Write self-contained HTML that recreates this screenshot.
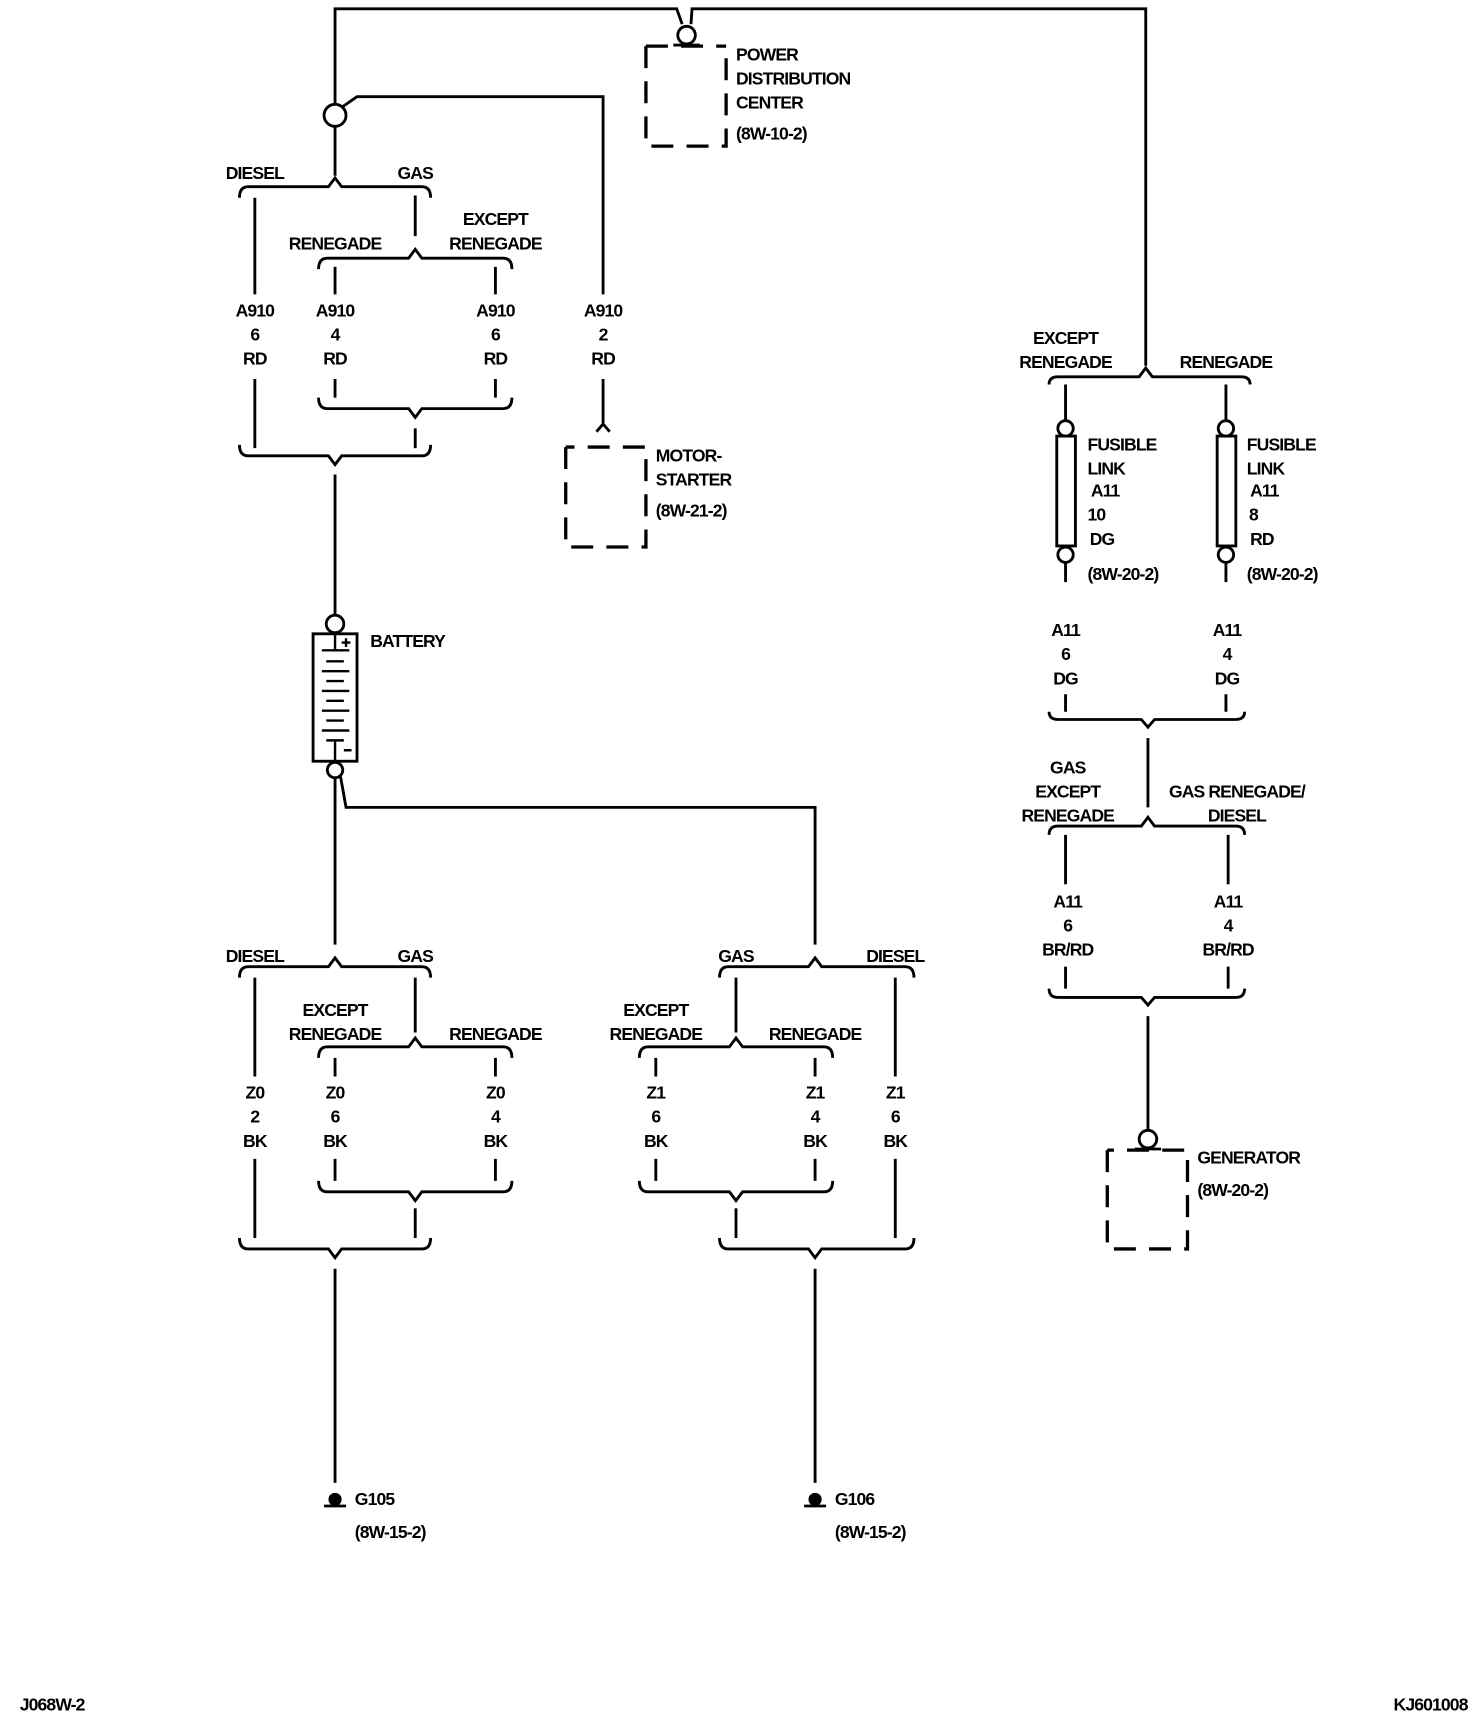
<!DOCTYPE html>
<html><head><meta charset="utf-8"><style>
html,body{margin:0;padding:0;background:#fff;}
svg{display:block}
text{font-family:"Liberation Sans",sans-serif;font-size:16px;fill:#000;font-weight:bold;letter-spacing:-0.8px;}
.c{text-anchor:middle;}
</style></head><body>
<svg width="1472" height="1718" viewBox="0 0 1340 1564" preserveAspectRatio="none" xmlns="http://www.w3.org/2000/svg">
<g fill="none" stroke="#000" stroke-width="2.6">
<path d="M305 95 V8 H616 L621 22 M629 22 L630 8 H1043 V333"/>
<circle cx="625" cy="32" r="8"/>
<path d="M613 41 H637"/>
<path d="M312 97 L325 88 H549 V268 M549 345 V385 M543 393 L549 386 L555 393"/>
<circle cx="305" cy="105" r="10"/>
<path d="M588 42 V133 H661 V42 M588 42 H661" stroke-width="3" stroke-dasharray="20 12"/>
<path d="M515 407 V498 H588 V407 H515" stroke-width="3" stroke-dasharray="20 12"/>
<path d="M305 115 V160"/>
<path d="M218 180 Q218 170 226 170 H299 L305 162 L311 170 H384 Q392 170 392 180"/>
<path d="M232 180 V268 M232 345 V408 M378 178 V215"/>
<path d="M290 245 Q290 235 298 235 H372 L378 227 L384 235 H458 Q466 235 466 245"/>
<path d="M305 243 V268 M451 243 V268 M305 345 V362 M451 345 V362"/>
<path d="M290 362 Q290 372 298 372 H372 L378 380 L384 372 H458 Q466 372 466 362"/>
<path d="M378 390 V408"/>
<path d="M218 405 Q218 415 226 415 H299 L305 423 L311 415 H384 Q392 415 392 405"/>
<path d="M305 432 V559"/>
<circle cx="305" cy="568" r="8"/>
<rect x="285" y="577" width="40" height="116"/>
<path d="M305 577 V592 M293 592 H318 M297 602 H313 M293 611 H318 M297 620 H313 M293 629 H318 M297 638 H313 M293 647 H318 M297 656 H313 M293 665 H318 M297 674 H313 M305 674 V693 M313 683 H320 M311 585 H319 M315 581 V589" stroke-width="2.2"/>
<circle cx="305" cy="701" r="7"/>
<path d="M305 708 V860 M310 707 L315 735 H742 V860"/>
<path d="M218 890 Q218 880 226 880 H299 L305 872 L311 880 H384 Q392 880 392 890"/>
<path d="M232 890 V980 M232 1055 V1127 M378 890 V940"/>
<path d="M290 963 Q290 953 298 953 H372 L378 945 L384 953 H458 Q466 953 466 963"/>
<path d="M305 963 V980 M451 963 V980 M305 1055 V1075 M451 1055 V1075"/>
<path d="M290 1075 Q290 1085 298 1085 H372 L378 1093 L384 1085 H458 Q466 1085 466 1075"/>
<path d="M378 1100 V1127"/>
<path d="M218 1127 Q218 1137 226 1137 H299 L305 1145 L311 1137 H384 Q392 1137 392 1127"/>
<path d="M305 1155 V1350 M295 1371 H315"/>
<path d="M655 890 Q655 880 663 880 H736 L742 872 L748 880 H824 Q832 880 832 890"/>
<path d="M670 890 V940 M815 890 V980 M815 1055 V1127"/>
<path d="M582 963 Q582 953 590 953 H664 L670 945 L676 953 H750 Q758 953 758 963"/>
<path d="M597 963 V980 M742 963 V980 M597 1055 V1075 M742 1055 V1075"/>
<path d="M582 1075 Q582 1085 590 1085 H664 L670 1093 L676 1085 H750 Q758 1085 758 1075"/>
<path d="M670 1100 V1127"/>
<path d="M655 1127 Q655 1137 663 1137 H736 L742 1145 L748 1137 H824 Q832 1137 832 1127"/>
<path d="M742 1155 V1350 M732 1371 H752"/>
<path d="M955 350 Q955 343 963 343 H1037 L1043 335 L1049 343 H1130 Q1138 343 1138 350"/>
<path d="M970 350 V383 M1116 350 V383 M970 513 V530 M1116 513 V530 M970 632 V648 M1116 632 V648"/>
<circle cx="970" cy="390" r="7"/><circle cx="1116" cy="390" r="7"/>
<circle cx="970" cy="505" r="7"/><circle cx="1116" cy="505" r="7"/>
<rect x="962" y="397" width="17" height="100"/>
<rect x="1108" y="397" width="17" height="100"/>
<path d="M955 648 Q955 655 963 655 H1039 L1045 662 L1051 655 H1125 Q1133 655 1133 648"/>
<path d="M1045 672 V735"/>
<path d="M955 760 Q955 752 963 752 H1039 L1045 744 L1051 752 H1125 Q1133 752 1133 760"/>
<path d="M970 760 V805 M1118 760 V805 M970 880 V900 M1118 880 V900"/>
<path d="M955 900 Q955 908 963 908 H1039 L1045 915 L1051 908 H1125 Q1133 908 1133 900"/>
<path d="M1045 925 V1029"/>
<circle cx="1045" cy="1037" r="8"/>
<path d="M1033 1046 H1057"/>
<path d="M1008 1047 V1137 H1081 V1047 H1008" stroke-width="3" stroke-dasharray="20 12"/>
</g>
<circle cx="305" cy="1365" r="6" fill="#000"/>
<circle cx="742" cy="1365" r="6" fill="#000"/>
<text x="670" y="55">POWER</text>
<text x="670" y="77">DISTRIBUTION</text>
<text x="670" y="99">CENTER</text>
<text x="597" y="420">MOTOR-</text>
<text x="597" y="442">STARTER</text>
<text x="337" y="589">BATTERY</text>
<text x="990" y="410">FUSIBLE</text>
<text x="990" y="432">LINK</text>
<text x="1135" y="410">FUSIBLE</text>
<text x="1135" y="432">LINK</text>
<text x="1090" y="1059">GENERATOR</text>
<text x="323" y="1370">G105</text>
<text x="760" y="1370">G106</text>
<text x="670" y="127">(8W-10-2)</text>
<text x="597" y="470">(8W-21-2)</text>
<text x="323" y="1400">(8W-15-2)</text>
<text x="760" y="1400">(8W-15-2)</text>
<text x="1090" y="1089">(8W-20-2)</text>
<text x="990" y="528">(8W-20-2)</text>
<text x="1135" y="528">(8W-20-2)</text>
<text x="993" y="452">A11</text><text x="990" y="474">10</text><text x="992" y="496">DG</text>
<text x="1138" y="452">A11</text><text x="1137" y="474">8</text><text x="1138" y="496">RD</text>
<g class="c">
<text x="232" y="163">DIESEL</text><text x="378" y="163">GAS</text>
<text x="305" y="227">RENEGADE</text>
<text x="451" y="205">EXCEPT</text><text x="451" y="227">RENEGADE</text>
<text x="232" y="288">A910</text><text x="232" y="310">6</text><text x="232" y="332">RD</text>
<text x="305" y="288">A910</text><text x="305" y="310">4</text><text x="305" y="332">RD</text>
<text x="451" y="288">A910</text><text x="451" y="310">6</text><text x="451" y="332">RD</text>
<text x="549" y="288">A910</text><text x="549" y="310">2</text><text x="549" y="332">RD</text>
<text x="232" y="876">DIESEL</text><text x="378" y="876">GAS</text>
<text x="305" y="925">EXCEPT</text><text x="305" y="947">RENEGADE</text>
<text x="451" y="947">RENEGADE</text>
<text x="232" y="1000">Z0</text><text x="232" y="1022">2</text><text x="232" y="1044">BK</text>
<text x="305" y="1000">Z0</text><text x="305" y="1022">6</text><text x="305" y="1044">BK</text>
<text x="451" y="1000">Z0</text><text x="451" y="1022">4</text><text x="451" y="1044">BK</text>
<text x="670" y="876">GAS</text><text x="815" y="876">DIESEL</text>
<text x="597" y="925">EXCEPT</text><text x="597" y="947">RENEGADE</text>
<text x="742" y="947">RENEGADE</text>
<text x="597" y="1000">Z1</text><text x="597" y="1022">6</text><text x="597" y="1044">BK</text>
<text x="742" y="1000">Z1</text><text x="742" y="1022">4</text><text x="742" y="1044">BK</text>
<text x="815" y="1000">Z1</text><text x="815" y="1022">6</text><text x="815" y="1044">BK</text>
<text x="970" y="313">EXCEPT</text><text x="970" y="335">RENEGADE</text>
<text x="1116" y="335">RENEGADE</text>
<text x="970" y="579">A11</text><text x="970" y="601">6</text><text x="970" y="623">DG</text>
<text x="1117" y="579">A11</text><text x="1117" y="601">4</text><text x="1117" y="623">DG</text>
<text x="972" y="704">GAS</text><text x="972" y="726">EXCEPT</text><text x="972" y="748">RENEGADE</text>
<text x="1126" y="726">GAS RENEGADE/</text><text x="1126" y="748">DIESEL</text>
<text x="972" y="826">A11</text><text x="972" y="848">6</text><text x="972" y="870">BR/RD</text>
<text x="1118" y="826">A11</text><text x="1118" y="848">4</text><text x="1118" y="870">BR/RD</text>
</g>
<text x="18" y="1557">J068W-2</text>
<text x="1336" y="1557" text-anchor="end">KJ601008</text>
</svg>
</body></html>
